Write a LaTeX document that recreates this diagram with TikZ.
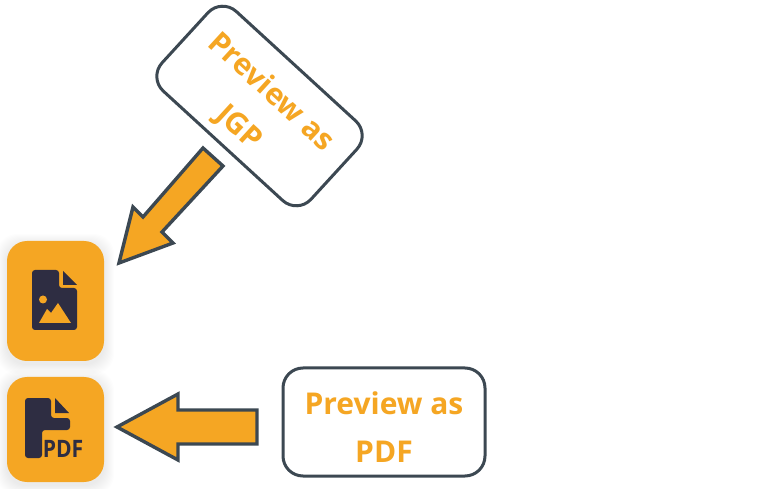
\documentclass[tikz,border=0pt]{standalone}
\usepackage{fontspec}
\setmainfont{Open Sans}
\definecolor{amber}{HTML}{F5A623}
\definecolor{slateline}{HTML}{3C4852}
\definecolor{icondark}{HTML}{2E2D42}
\tikzset{
  labelbox/.style={draw=slateline,line width=3pt,rounded corners=20pt,fill=white,minimum width=202pt,minimum height=108pt,inner sep=0pt},
  labeltext/.style={text=amber,font=\bfseries\fontsize{30}{48}\selectfont,align=center},
  blockarrow/.style={draw=slateline,line width=3.4pt,fill=amber,miter limit=10},
  appicon/.style={fill=amber,draw=none,rounded corners=20pt},
  iconshade/.style={fill=black,fill opacity=0.006,draw=none},
  glyph/.style={fill=icondark,draw=none},
  cutout/.style={fill=amber,draw=none}
}
\begin{document}
\begin{tikzpicture}[x=1pt,y=-1pt]
\useasboundingbox (0,0) rectangle (780,489);
% soft shadows
\foreach \d in {1,2,...,10}{
  \fill[iconshade,rounded corners=20pt] (7-\d,241-\d+3) rectangle (104+\d,361+\d+3);
  \fill[iconshade,rounded corners=20pt] (7-\d,377-\d+3) rectangle (104+\d,482+\d+3);
}
% JPG icon
\fill[appicon] (7,241) rectangle (104,361);
\fill[glyph,rounded corners=3pt] (32,270) -- (59,270) -- (59,288) -- (77,288) -- (77,330) -- (32,330) -- cycle;
\fill[glyph] (63,271) -- (77,285) -- (63,285) -- cycle;
\fill[cutout] (43,299.5) circle (4pt);
\fill[cutout] (39,323) -- (47,309) -- (51,313) -- (58,303) -- (71,323) -- cycle;
% PDF icon
\fill[appicon] (7,377) rectangle (104,482);
\fill[glyph,rounded corners=3pt] (25,398) -- (51,398) -- (51,418) -- (70,418) -- (70,430) -- (42,430) -- (42,458) -- (25,458) -- cycle;
\fill[glyph] (55,398) -- (69,413) -- (55,413) -- cycle;
\node (pdfglyph) at (63,448.5) [text=icondark,inner sep=0pt,font=\bfseries\fontsize{24}{24}\selectfont,xscale=0.88] {PDF};
% block arrows
\draw[blockarrow] (119,263) -- (133,207) -- (143,217) -- (203,148) -- (223,166) -- (162,232) -- (173,243) -- cycle;
\draw[blockarrow] (117,427) -- (178,394) -- (178,410) -- (257,410) -- (257,444) -- (178,444) -- (178,460) -- cycle;
% label boxes
\node (jpgbox) at (259.5,106) [labelbox,rotate=-42.5] {};
\node (jpgtext) at (254.5,110.5) [labeltext,rotate=-42.5] {Preview as\\JGP};
\node (pdfbox) at (384,422) [labelbox] {};
\node (pdftext) at (384,427) [labeltext] {Preview as\\PDF};
\end{tikzpicture}
\end{document}
